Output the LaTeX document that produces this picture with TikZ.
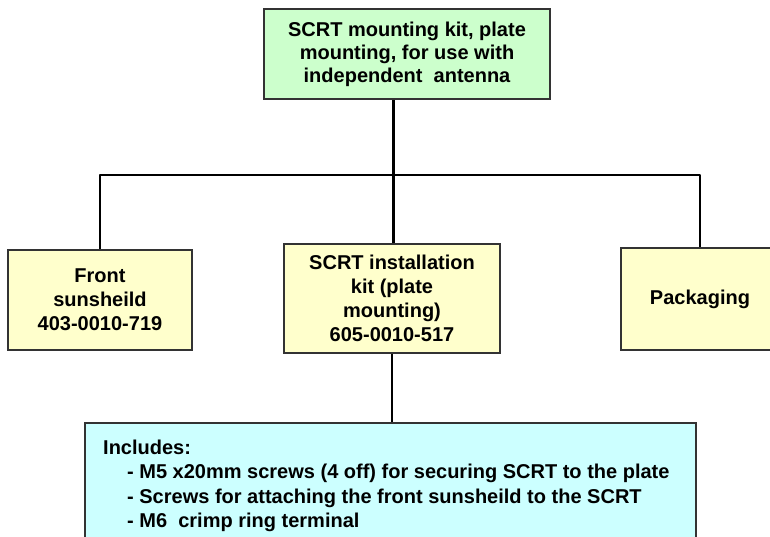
\documentclass[tikz,border=0pt]{standalone}
\usepackage{fontspec}
\setmainfont{Liberation Sans}
\definecolor{boxgreen}{HTML}{CCFFCC}
\definecolor{boxyellow}{HTML}{FFFFCC}
\definecolor{boxcyan}{HTML}{CCFFFF}
\definecolor{edge}{HTML}{333333}
\tikzset{
  box/.style={draw=edge, line width=1.8pt, inner sep=0pt, align=center,
    font=\bfseries\fontsize{20}{24}\selectfont},
  link/.style={draw=black, line width=2.6pt, line join=round}
}
\begin{document}
\begin{tikzpicture}[x=1pt,y=-1pt]
\clip (0,0) rectangle (770,537);
\fill[white] (0,0) rectangle (770,537);
\node[box, fill=boxgreen, minimum width=286pt, minimum height=90pt,
  font=\bfseries\fontsize{20}{23}\selectfont] (top) at (407,54)
  {SCRT mounting kit, plate\\mounting, for use with\\independent\ \ antenna};
\node[box, fill=boxyellow, minimum width=184pt, minimum height=100pt] (left) at (100,300)
  {Front\\sunsheild\\403-0010-719};
\node[box, fill=boxyellow, minimum width=216pt, minimum height=109pt] (mid) at (392,298.5)
  {SCRT installation\\kit (plate\\mounting)\\605-0010-517};
\node[box, fill=boxyellow, minimum width=158pt, minimum height=102pt] (right) at (700,299)
  {Packaging};
\node[box, fill=boxcyan, anchor=north west, minimum width=611pt, minimum height=140pt] (incl) at (84,422) {};
\node[anchor=north west, inner sep=0pt, align=left,
  font=\bfseries\fontsize{20}{24.5}\selectfont] (incltext) at (103,439.5)
  {Includes:\\
   \hspace*{24pt}- M5 x20mm screws (4 off) for securing SCRT to the plate\\
   \hspace*{24pt}- Screws for attaching the front sunsheild to the SCRT\\
   \hspace*{24pt}- M6\ \ crimp ring terminal};
\coordinate (bus) at (393.5,175);
\draw[link] (bus |- top.south) -- (bus);
\draw[link] (left.north) |- (bus) -| (right.north);
\draw[link] (bus) -- (bus |- mid.north);
\draw[link] (mid.south) -- (mid.south |- incl.north);
\end{tikzpicture}
\end{document}
